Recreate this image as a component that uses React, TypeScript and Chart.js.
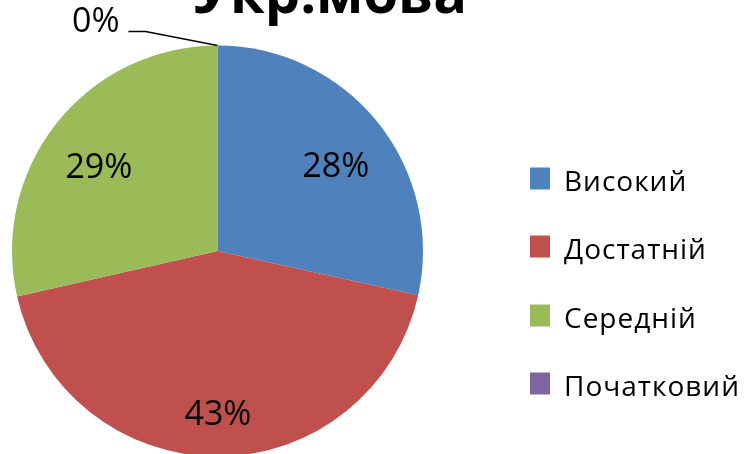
import React, { useEffect, useRef } from "react";
import { Chart, registerables } from "chart.js";

Chart.register(...registerables);

const TITLE = "Укр.мова";
const categories = ["Високий", "Достатній", "Середній", "Початковий"];
const values = [28.45, 43.0, 28.55, 0];
const colors = ["#4F81BD", "#C0504D", "#9BBB59", "#8064A2"];

const FONT = "'Open Sans', 'Noto Sans', sans-serif";

const overlayPlugin = {
  id: "overlay",
  afterDraw(chart: any) {
    const ctx = chart.ctx as CanvasRenderingContext2D;
    const meta = chart.getDatasetMeta(0);
    const total = values.reduce((a, b) => a + b, 0);
    ctx.save();

    // Title
    ctx.fillStyle = "#000";
    ctx.font = `bold 56px ${FONT}`;
    ctx.textAlign = "center";
    ctx.textBaseline = "alphabetic";
    ctx.fillText(TITLE, 330, 13);

    // Data labels
    ctx.font = `34px ${FONT}`;
    meta.data.forEach((arc: any, i: number) => {
      const p = arc.getProps(["x", "y", "startAngle", "endAngle", "outerRadius"], true);
      const mid0 = (p.startAngle + p.endAngle) / 2;
      const txt = Math.round((values[i] / total) * 100) + "%";
      if (values[i] > 0) {
        const mid = mid0 + 0.074 * Math.cos(mid0);
        const ux = Math.cos(mid);
        const uy = Math.sin(mid);
        const w = ctx.measureText(txt).width;
        const h = 30;
        const ox = (ux >= 0 ? 1 : -1) * w / 2;
        const oy = (uy >= 0 ? 1 : -1) * h / 2;
        const R = p.outerRadius * 0.883;
        const b = ux * ox + uy * oy;
        const c = ox * ox + oy * oy - R * R;
        const t = -b + Math.sqrt(b * b - c);
        const cx = p.x + ux * t;
        const cy = p.y + uy * t;
        ctx.textAlign = "center";
        ctx.textBaseline = "middle";
        ctx.fillText(txt, cx, cy + 1);
      } else {
        const ux = Math.cos(mid0);
        const uy = Math.sin(mid0);
        const ex = p.x + ux * p.outerRadius;
        const ey = p.y + uy * p.outerRadius;
        const elx = ex - 72;
        const ely = ey - 14;
        const endx = elx - 17;
        ctx.strokeStyle = "#000";
        ctx.lineWidth = 1.5;
        ctx.beginPath();
        ctx.moveTo(ex, ey);
        ctx.lineTo(elx, ely);
        ctx.lineTo(endx, ely);
        ctx.stroke();
        ctx.textAlign = "right";
        ctx.textBaseline = "middle";
        ctx.fillText(txt, endx - 9, ely - 9);
      }
    });

    // Legend
    const legendY = [178.5, 246.5, 315.5, 383.5];
    ctx.font = `28px ${FONT}`;
    (ctx as any).letterSpacing = "1px";
    ctx.textAlign = "left";
    ctx.textBaseline = "alphabetic";
    categories.forEach((name, i) => {
      const y = legendY[i];
      ctx.fillStyle = colors[i];
      ctx.fillRect(530, y - 11, 20, 22);
      ctx.fillStyle = "#000";
      ctx.fillText(name, 564, y + 12);
    });

    ctx.restore();
  },
};

export default function App() {
  const ref = useRef<HTMLCanvasElement | null>(null);
  useEffect(() => {
    if (!ref.current) return;
    const chart = new Chart(ref.current, {
      type: "pie",
      data: {
        labels: categories,
        datasets: [
          {
            data: values,
            backgroundColor: colors,
            borderWidth: 0,
          },
        ],
      },
      options: {
        responsive: false,
        animation: false,
        layout: { padding: { left: 12, top: 45.5, right: 330, bottom: 3.5 } },
        plugins: {
          legend: { display: false },
          title: { display: false },
          tooltip: { enabled: false },
        },
      },
      plugins: [overlayPlugin],
    });
    return () => chart.destroy();
  }, []);
  return (
    <div
      style={{
        position: "fixed",
        left: 0,
        top: 0,
        width: 753,
        height: 454,
        overflow: "hidden",
        background: "#fff",
      }}
    >
      <canvas ref={ref} width={753} height={460} style={{ display: "block" }} />
    </div>
  );
}
